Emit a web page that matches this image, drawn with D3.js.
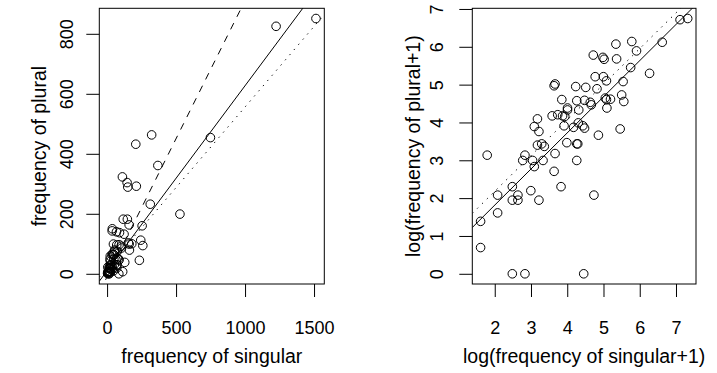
<!DOCTYPE html>
<html>
<head>
<meta charset="utf-8">
<script src="https://cdn.jsdelivr.net/npm/d3@7"></script>
<style>
  html, body { margin: 0; padding: 0; background: #fff; }
  svg { display: block; }
  text { font-family: "Liberation Sans", Arial, Helvetica, sans-serif; fill: #000; }
</style>
</head>
<body>
<svg id="chart" width="717" height="373"></svg>
<script>
// ---- data (raw counts per word) ----
const singular = [4,4,5,7,7,11,16,85,11,11,13,13,15,16,19,20,21,21,23,24,24,23,26,27,28,35,38,37,38,37,45,46,41,47,50,49,54,54,53,64,68,70,74,70,72,70,73,83,87,90,87,102,105,111,117,123,128,113,147,145,150,160,155,160,162,179,208,212,254,244,259,234,313,323,368,528,749,1225,1514];
const plural   = [3,1,22,7,4,0,0,0,9,6,7,6,19,22,8,19,16,48,59,42,6,29,30,19,28,64,150,143,23,14,9,99,66,64,63,49,79,75,31,47,140,96,75,30,30,19,53,49,46,137,97,92,86,323,182,132,38,7,182,304,289,163,103,99,79,100,432,292,160,112,94,45,232,463,361,199,454,825,851];

// fitted lines: intercepts and slopes (raw scale: solid, dashed, dotted)
const rawIntercepts = [10, -10, 19];
const rawSlopes     = [0.617, 0.921, 0.537];
// fitted lines on log scale (solid, dotted)
const logIntercepts = [-0.095, 0.295];
const logSlopes     = [0.955, 0.943];

// tick labels
const rawXTicks = [0, 500, 1000, 1500];
const rawYTicks = [0, 200, 400, 600, 800];
const logXTicks = [2, 3, 4, 5, 6, 7];
const logYTicks = [0, 1, 2, 3, 4, 5, 6, 7];

const xLabels = ["frequency of singular", "log(frequency of singular+1)"];
const yLabels = ["frequency of plural", "log(frequency of plural+1)"];

// ---- layout ----
const svg = d3.select("#chart");
const panels = [
  {x0: 99.3, x1: 324.3, y0: 8.3, y1: 284, ytickBase: 73, ytitleBase: 46},
  {x0: 472.3, x1: 696, y0: 8.3, y1: 284, ytickBase: 443, ytitleBase: 420}
];
const tickLen = 13;
const tickFont = 18, titleFont = 19.5;
const xtickBase = 333.5, xtitleBase = 363;

function rExtent(vals) {
  const [a, b] = d3.extent(vals);
  const d = b - a;
  return [a - 0.04 * d, b + 0.04 * d];
}

const logS = singular.map(v => Math.log(v + 1));
const logP = plural.map(v => Math.log(v + 1));

const defs = [
  {xs: singular, ys: plural, xt: rawXTicks, yt: rawYTicks,
   lines: rawIntercepts.map((a, i) => ({a, b: rawSlopes[i], dash: ["none", "7,7", "1.3,5.5"][i]}))},
  {xs: logS, ys: logP, xt: logXTicks, yt: logYTicks,
   lines: logIntercepts.map((a, i) => ({a, b: logSlopes[i], dash: ["none", "1.3,5.5"][i]}))}
];

defs.forEach((def, pi) => {
  const p = panels[pi];
  const x = d3.scaleLinear().domain(rExtent(def.xs)).range([p.x0, p.x1]);
  const y = d3.scaleLinear().domain(rExtent(def.ys)).range([p.y1, p.y0]);
  const g = svg.append("g");

  const clipId = "clip" + pi;
  svg.append("clipPath").attr("id", clipId)
    .append("rect").attr("x", p.x0).attr("y", p.y0)
    .attr("width", p.x1 - p.x0).attr("height", p.y1 - p.y0);

  // points
  g.append("g").selectAll("circle").data(def.xs.map((v, i) => [v, def.ys[i]]))
    .join("circle")
    .attr("cx", d => x(d[0])).attr("cy", d => y(d[1]))
    .attr("r", 4.3)
    .attr("fill", "none").attr("stroke", "#000").attr("stroke-width", 1);

  // lines
  const [dx0, dx1] = x.domain();
  g.append("g").attr("clip-path", `url(#${clipId})`)
    .selectAll("line").data(def.lines).join("line")
    .attr("x1", x(dx0)).attr("x2", x(dx1))
    .attr("y1", d => y(d.a + d.b * dx0)).attr("y2", d => y(d.a + d.b * dx1))
    .attr("stroke", "#000").attr("stroke-width", 1)
    .attr("stroke-dasharray", d => d.dash);

  // box
  g.append("rect").attr("x", p.x0).attr("y", p.y0)
    .attr("width", p.x1 - p.x0).attr("height", p.y1 - p.y0)
    .attr("fill", "none").attr("stroke", "#000").attr("stroke-width", 1);

  // x axis
  const xa = g.append("g").attr("transform", `translate(0,${p.y1})`)
    .call(d3.axisBottom(x).tickValues(def.xt).tickSize(tickLen).tickPadding(0).tickFormat(d3.format("d")));
  xa.select(".domain").remove();
  xa.selectAll(".tick line").attr("stroke", "#000");
  xa.selectAll(".tick text").attr("y", xtickBase - p.y1).attr("dy", null)
    .style("font-size", tickFont + "px").attr("fill", "#000")
    .style("font-family", '"Liberation Sans", Arial, sans-serif');

  // y axis
  const ya = g.append("g").attr("transform", `translate(${p.x0},0)`)
    .call(d3.axisLeft(y).tickValues(def.yt).tickSize(tickLen).tickPadding(0).tickFormat(d3.format("d")));
  ya.select(".domain").remove();
  ya.selectAll(".tick line").attr("stroke", "#000");
  ya.selectAll(".tick text")
    .attr("x", null).attr("dy", null)
    .attr("transform", `translate(${p.ytickBase - p.x0},0) rotate(-90)`)
    .attr("text-anchor", "middle")
    .style("font-size", tickFont + "px").attr("fill", "#000")
    .style("font-family", '"Liberation Sans", Arial, sans-serif');

  // titles
  svg.append("text").attr("x", (p.x0 + p.x1) / 2).attr("y", xtitleBase)
    .attr("text-anchor", "middle").style("font-size", titleFont + "px")
    .text(xLabels[pi]);
  svg.append("text")
    .attr("transform", `translate(${p.ytitleBase},${(p.y0 + p.y1) / 2}) rotate(-90)`)
    .attr("text-anchor", "middle").style("font-size", titleFont + "px")
    .text(yLabels[pi]);
});
</script>
</body>
</html>
